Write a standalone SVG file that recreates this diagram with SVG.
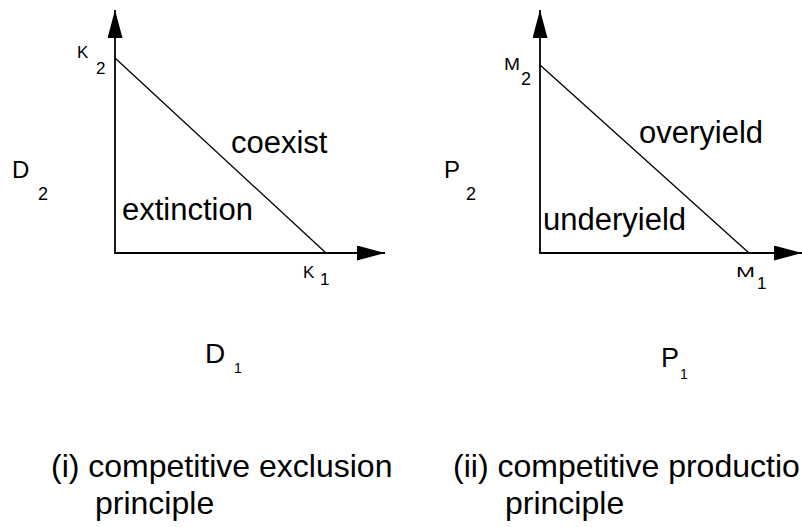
<svg xmlns="http://www.w3.org/2000/svg" width="802" height="527" viewBox="0 0 802 527">
<defs>
<style>
text{font-family:"Liberation Sans",Arial,Helvetica,sans-serif;fill:#000}
.axis{stroke:#000;stroke-width:1.8;fill:none}
.diag{stroke:#000;stroke-width:1.3;fill:none}
.region{font-size:31px}
.caption{font-size:32px}
.var{font-size:24px}
.tick{font-size:17px}
</style>
<marker id="arrow" viewBox="0 0 28 15" refX="28" refY="7.5" markerWidth="28" markerHeight="15" markerUnits="userSpaceOnUse" orient="auto">
<path d="M0,0 L28,7.5 L0,15 Z" fill="#000"/>
</marker>
</defs>
<rect width="802" height="527" fill="#fff"/>
<g id="connectors">
<line class="axis" x1="115" y1="254" x2="115" y2="10" marker-end="url(#arrow)"/>
<line class="axis" x1="115" y1="253" x2="385" y2="253" marker-end="url(#arrow)"/>
<line class="diag" x1="115" y1="58" x2="326" y2="253"/>
<line class="axis" x1="540" y1="254" x2="540" y2="10" marker-end="url(#arrow)"/>
<line class="axis" x1="540" y1="253" x2="802" y2="253" marker-end="url(#arrow)"/>
<line class="diag" x1="540" y1="65" x2="749" y2="253"/>
</g>
<g id="plot1-labels">
<text class="tick" x="77" y="58">K</text>
<text class="tick" x="96" y="74">2</text>
<text class="tick" x="303" y="278">K</text>
<text class="tick" x="320" y="285">1</text>
<text class="var" x="12" y="178">D</text>
<text class="tick" x="38" y="200" style="font-size:18px">2</text>
<text class="var" x="205" y="363" style="font-size:28px">D</text>
<text x="234" y="373" style="font-size:14px">1</text>
</g>
<g id="region-coexist"><text class="region" x="231" y="153">coexist</text></g>
<g id="region-extinction"><text class="region" x="122" y="220">extinction</text></g>
<g id="plot2-labels">
<text class="tick" x="504" y="70" style="font-size:16px" textLength="16" lengthAdjust="spacingAndGlyphs">M</text>
<text class="tick" x="521" y="85" style="font-size:18px">2</text>
<text class="tick" x="736" y="277" style="font-size:15px" textLength="19" lengthAdjust="spacingAndGlyphs">M</text>
<text class="tick" x="757" y="289">1</text>
<text class="var" x="444" y="178">P</text>
<text class="tick" x="466" y="200" style="font-size:18px">2</text>
<text class="var" x="661" y="367" style="font-size:27px">P</text>
<text x="680" y="379" style="font-size:14px">1</text>
</g>
<g id="region-overyield"><text class="region" x="639" y="143">overyield</text></g>
<g id="region-underyield"><text class="region" x="543" y="230">underyield</text></g>
<g id="caption1">
<text class="caption" x="51" y="477">(i) competitive exclusion</text>
<text class="caption" x="95" y="514">principle</text>
</g>
<g id="caption2">
<text class="caption" x="453" y="477">(ii) competitive productio</text>
<text class="caption" x="505" y="514">principle</text>
</g>
</svg>
